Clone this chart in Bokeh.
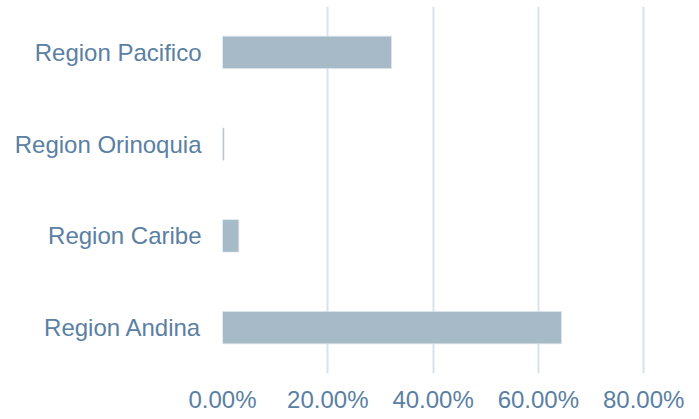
from bokeh.plotting import figure
from bokeh.models import Range1d, NumeralTickFormatter, FixedTicker
from bokeh.embed import file_html
from bokeh.resources import INLINE

regions = ["Region Andina", "Region Caribe", "Region Orinoquia", "Region Pacifico"]
shares = [0.644, 0.031, 0.003, 0.321]
x_ticks = [0.0, 0.2, 0.4, 0.6, 0.8]

TEXT = "#5a80a3"
FONT = "Liberation Sans"

p = figure(y_range=regions, x_range=Range1d(0, 0.87), width=699, height=419,
           output_backend="svg", toolbar_location=None,
           min_border_left=222, min_border_right=19, min_border_top=6, min_border_bottom=46)
p.hbar(y=regions, right=shares, left=0, height=0.354, fill_color="#a6bac7",
       line_color="#dde6ee", line_width=0.7)

p.outline_line_color = None
p.ygrid.grid_line_color = None
p.xgrid.grid_line_color = "#d7e2ec"
p.xgrid.grid_line_width = 2
p.xaxis.ticker = FixedTicker(ticks=x_ticks)
p.xaxis.formatter = NumeralTickFormatter(format="0.00%")

for ax in (p.xaxis[0], p.yaxis[0]):
    ax.axis_line_color = None
    ax.major_tick_line_color = None
    ax.minor_tick_line_color = None
    ax.major_tick_out = 0
    ax.major_tick_in = 0
    ax.minor_tick_out = 0
    ax.minor_tick_in = 0
    ax.major_label_text_color = TEXT
    ax.major_label_text_font = FONT
    ax.major_label_text_font_size = "24px"
p.yaxis.major_label_standoff = 21
p.xaxis.major_label_standoff = 12

open("out.html", "w").write(file_html(p, INLINE))
